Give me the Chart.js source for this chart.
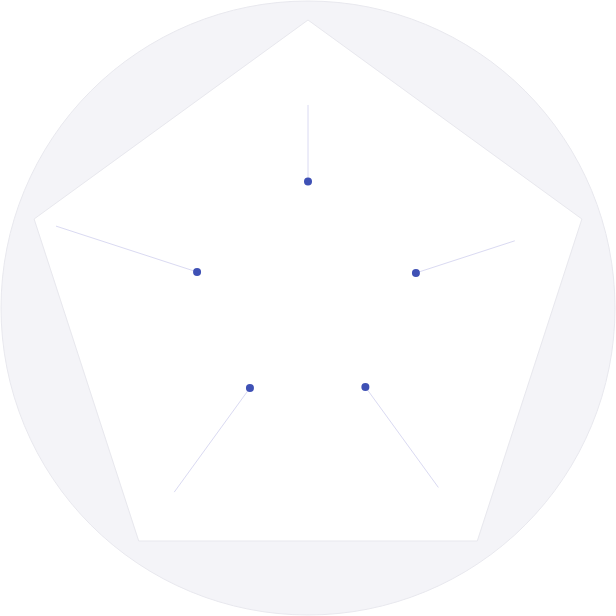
<!DOCTYPE html>
<html>
<head>
<meta charset="utf-8">
<script src="https://cdn.jsdelivr.net/npm/chart.js@4"></script>
<style>
    html, body { margin: 0; padding: 0; background: #ffffff; }
    #wrap { width: 616px; height: 616px; }
</style>
</head>
<body>
<div id="wrap"><canvas id="radar"></canvas></div>
<script>
// data
const axes = ['A', 'B', 'C', 'D', 'E'];
const scores = [43.9, 39.4, 33.9, 34.3, 40.5];
const upper = [70.5, 75.5, 77, 79, 92];
const scaleMax = 100;

// round backdrop behind the polygon
const discPlugin = {
    id: 'disc',
    beforeDraw: (chart) => {
        const r = chart.scales.r;
        const ctx = chart.ctx;
        const rad = Math.min(chart.width, chart.height) / 2 - 1;
        ctx.save();
        ctx.beginPath();
        ctx.arc(r.xCenter, r.yCenter, rad, 0, Math.PI * 2);
        ctx.fillStyle = '#f4f4f8';
        ctx.fill();
        ctx.lineWidth = 1;
        ctx.strokeStyle = '#e8e8ee';
        ctx.stroke();
        ctx.restore();
    }
};

// radial whiskers from each score out to its upper value
const whiskerPlugin = {
    id: 'whiskers',
    beforeDatasetsDraw: (chart) => {
        const r = chart.scales.r;
        const ctx = chart.ctx;
        ctx.save();
        ctx.lineWidth = 1;
        ctx.strokeStyle = '#dadaf2';
        scores.forEach((v, i) => {
            const a = r.getPointPositionForValue(i, v);
            const b = r.getPointPositionForValue(i, upper[i]);
            ctx.beginPath();
            ctx.moveTo(a.x, a.y);
            ctx.lineTo(b.x, b.y);
            ctx.stroke();
        });
        ctx.restore();
    }
};

new Chart(document.getElementById('radar'), {
    type: 'radar',
    data: {
        labels: axes,
        datasets: [{
            data: scores,
            showLine: false,
            fill: false,
            borderWidth: 0,
            pointRadius: 4,
            pointBorderWidth: 0,
            pointBackgroundColor: '#3f51b5',
            pointBorderColor: '#3f51b5'
        }]
    },
    options: {
        responsive: true,
        maintainAspectRatio: false,
        animation: false,
        layout: { padding: 20 },
        plugins: {
            legend: { display: false },
            tooltip: { enabled: false }
        },
        scales: {
            r: {
                min: 0,
                max: scaleMax,
                backgroundColor: '#ffffff',
                ticks: { display: false, stepSize: scaleMax },
                pointLabels: { display: false },
                angleLines: { display: false },
                grid: { color: '#e8e8ee', lineWidth: 1 }
            }
        }
    },
    plugins: [discPlugin, whiskerPlugin]
});
</script>
</body>
</html>
